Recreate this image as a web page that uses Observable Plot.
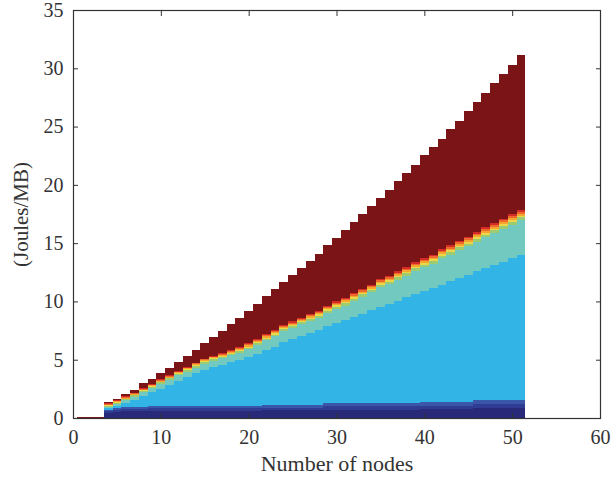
<!DOCTYPE html>
<html><head><meta charset="utf-8">
<script src="https://cdn.jsdelivr.net/npm/d3@7"></script>
<script src="https://cdn.jsdelivr.net/npm/@observablehq/plot@0.6"></script>
<style>body{margin:0;background:#fff}</style>
</head><body><div id="chart"></div><script>
const nodes = [1,2,3,4,5,6,7,8,9,10,11,12,13,14,15,16,17,18,19,20,21,22,23,24,25,26,27,28,29,30,31,32,33,34,35,36,37,38,39,40,41,42,43,44,45,46,47,48,49,50,51];

const navy = [0,0,0, .45,.50,.58,.58,.58, .60,.60,.60,.60,.60,.60,.60,.60,.60,.60,.60,.60,.60, .65,.65,.65,.65,.65,.65,.65, .70,.70,.70,.70,.70,.70,.70,.70,.70,.70,.70, .76,.76,.76,.76,.76,.76, .85,.85,.85,.85,.85,.85];
const blue2 = [0,0,0, .15,.18,.20,.20,.20, .22,.22,.22,.22,.22,.22,.22,.22,.22,.22,.22,.22,.22, .25,.25,.25,.25,.25,.25,.25, .30,.30,.30,.30,.30,.30,.30,.30,.30,.30,.30, .31,.31,.31,.31,.31,.31, .34,.34,.34,.34,.34,.34];
const blue3 = [0,0,0, .12,.15,.20,.20,.20, .22,.22,.22,.22,.22,.22,.22,.22,.22,.22,.22,.22,.22, .25,.25,.25,.25,.25,.25,.25, .30,.30,.30,.30,.30,.30,.30,.30,.30,.30,.30, .31,.31,.31,.31,.31,.31, .33,.33,.33,.33,.33,.33];
const cyan = [0,0,0, .16,.17,.32,.60,.90,1.16,1.48,1.81,2.16,2.48,2.78,3.06,3.31,3.54,3.76,3.96,4.16,4.46,4.65,4.95,5.35,5.63,5.87,6.13,6.40,6.60,6.85,7.10,7.40,7.65,7.95,8.25,8.50,8.75,9.05,9.35,9.52,9.77,10.07,10.37,10.62,10.92,11.08,11.33,11.63,11.90,12.18,12.46];
const teal = [0,0,0, .07,.21,.22,.26,.32,.36,.42,.44,.45,.46,.50,.56,.55,.55,.57,.61,.70,.78,.85,.91,.94,.95,1.02,1.05,1.06,1.13,1.22,1.25,1.36,1.46,1.52,1.68,1.69,1.81,1.86,1.97,2.04,2.10,2.24,2.27,2.41,2.43,2.51,2.65,2.71,2.80,2.89,2.97];
const green = [0,0,0, .08,.09,.09,.10,.10,.10,.11,.11,.11,.12, .12,.12,.13,.13,.13,.14,.14,.15,.15,.15, .16,.16,.16,.17,.17,.17,.18,.18,.18,.19, .19,.20,.20,.20,.21,.21,.21,.22,.22,.22, .23,.23,.24,.24,.24,.25,.25,.25];
const yellow = [0,0,0, .06,.06,.06,.06,.06,.07,.07,.07,.07,.08, .08,.08,.08,.08,.09,.09,.09,.09,.10,.10, .10,.10,.10,.11,.11,.11,.11,.12,.12,.12, .12,.13,.13,.13,.13,.14,.14,.14,.14,.14, .15,.15,.15,.15,.15,.16,.16,.16];
const orange = [0,0,0, .06,.06,.07,.07,.07,.07,.08,.08,.08,.08, .09,.09,.09,.09,.10,.10,.10,.10,.11,.11, .11,.11,.12,.12,.12,.12,.13,.13,.13,.13, .14,.14,.14,.14,.15,.15,.15,.15,.16,.16, .16,.16,.17,.17,.17,.18,.18,.18];
const orangered = [0,0,0, .05,.05,.05,.05,.06,.06,.06,.06,.07,.07, .07,.07,.07,.08,.08,.08,.08,.08,.08,.09, .09,.09,.09,.09,.10,.10,.10,.10,.11,.11, .11,.11,.11,.12,.12,.12,.12,.12,.13,.13, .13,.13,.13,.14,.14,.14,.14,.14];
const red = [0,0,0, .05,.05,.06,.06,.06,.06,.06,.07,.07,.07, .07,.08,.08,.09,.08,.08,.09,.10,.09,.09, .10,.11,.11,.10,.11,.12,.11,.12,.12,.12, .12,.12,.13,.13,.13,.13,.14,.14,.14,.15, .14,.15,.15,.15,.16,.15,.16,.17];
const darkred = [.06,.06,.06, .15,.14,.18,.25,.42,.45,.58,.61,.75,.91,1.08,1.36,1.59,1.86,2.21,2.50,2.77,3.00,3.25,3.48,3.63,3.99,4.24,4.59,4.87,5.18,5.40,5.84,6.11,6.41,6.72,6.98,7.40,7.71,8.08,8.34,8.84,9.27,9.49,9.95,10.29,10.79,11.19,11.54,11.99,12.41,12.83,13.26];

const layerNames = ["L1","L2","L3","L4","L5","L6","L7","L8","L9","L10","L11"];
const layerValues = [navy, blue2, blue3, cyan, teal, green, yellow, orange, orangered, red, darkred];
const layerColors = ["#29297a","#2f3c92","#3a56a8","#33b4e6","#72c9bf","#9ccb72","#e8d84a","#f5a530","#ee6a2c","#d52b27","#7a1416"];

const xTicks = [0,10,20,30,40,50,60];
const yTicks = [0,5,10,15,20,25,30,35];

const rows = [];
nodes.forEach((n, i) => {
  let acc = 0;
  layerValues.forEach((arr, j) => {
    const v = arr[i];
    if (v > 0) rows.push({node: n, layer: layerNames[j], y1: acc, y2: acc + v});
    acc += v;
  });
});

const chart = Plot.plot({
  width: 613, height: 483,
  marginLeft: 73, marginRight: 13, marginTop: 10, marginBottom: 65,
  style: {fontFamily: "Liberation Serif, serif", fontSize: "21px", color: "#333", background: "#fff"},
  x: {domain: [0, 60]},
  y: {domain: [0, 35]},
  color: {domain: layerNames, range: layerColors},
  marks: [
    Plot.rect(rows, {x1: d => d.node - 0.5, x2: d => d.node + 0.5, y1: "y1", y2: "y2", fill: "layer", shapeRendering: "crispEdges"}),
    Plot.frame({stroke: "#333", strokeWidth: 1.2}),
    Plot.axisY({anchor: "left", ticks: yTicks, tickSize: 0, tickPadding: 10, fontSize: 20, label: null}),
    Plot.axisY({anchor: "left", ticks: yTicks, tickSize: 0, tickFormat: () => "", fontSize: 21, label: "(Joules/MB)", labelAnchor: "center", labelArrow: "none", labelOffset: 60}),
    Plot.axisY({anchor: "left", ticks: yTicks, tickSize: -5, tickFormat: () => "", label: null, stroke: "#333"}),
    Plot.axisY({anchor: "right", ticks: yTicks, tickSize: -5, tickFormat: () => "", label: null, stroke: "#333"}),
    Plot.axisX({anchor: "bottom", ticks: xTicks, tickSize: 0, tickPadding: 11, fontSize: 20, label: null}),
    Plot.axisX({anchor: "bottom", ticks: xTicks, tickSize: 0, tickFormat: () => "", fontSize: 22, label: "Number of nodes", labelAnchor: "center", labelArrow: "none", labelOffset: 52}),
    Plot.axisX({anchor: "bottom", ticks: xTicks, tickSize: -5, tickFormat: () => "", label: null, stroke: "#333"}),
    Plot.axisX({anchor: "top", ticks: xTicks, tickSize: -5, tickFormat: () => "", label: null, stroke: "#333"})
  ]
});
document.getElementById("chart").appendChild(chart);
</script></body></html>
